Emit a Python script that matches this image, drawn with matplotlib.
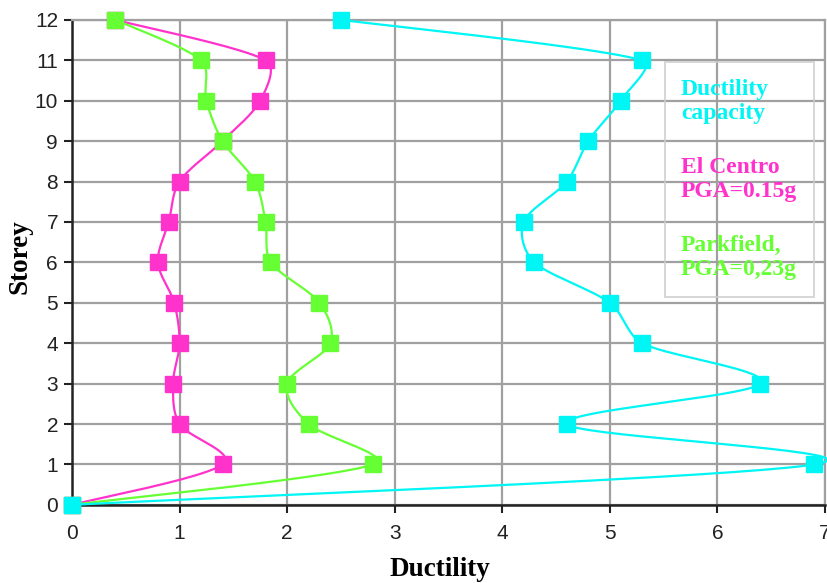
import numpy as np
import matplotlib
matplotlib.use("Agg")
import matplotlib.pyplot as plt
from matplotlib.lines import Line2D

storey = [0, 1, 2, 3, 4, 5, 6, 7, 8, 9, 10, 11, 12]
el_centro = [0, 1.4, 1.0, 0.94, 1.0, 0.95, 0.8, 0.9, 1.0, 1.4, 1.75, 1.8, 0.4]
parkfield = [0, 2.8, 2.2, 2.0, 2.4, 2.3, 1.85, 1.8, 1.7, 1.4, 1.25, 1.2, 0.4]
capacity = [0, 6.9, 4.6, 6.4, 5.3, 5.0, 4.3, 4.2, 4.6, 4.8, 5.1, 5.3, 2.5]

labels = ["Ductility\ncapacity", "El Centro\nPGA=0.15g", "Parkfield,\nPGA=0,23g"]
colors = ["#00F5F5", "#FF33CC", "#66FF33"]

XMAX, YMAX = 7, 12
SX, SY = 753 / XMAX, 485 / YMAX  # px per unit, spline is built in screen space


def smooth(xs, ys, n=40, k=1 / 3):
    # catmull-rom style bezier, handle length capped by the segment length
    p = np.column_stack([np.asarray(xs, float) * SX, np.asarray(ys, float) * SY])
    out = []
    for i in range(len(p) - 1):
        p0 = p[i - 1] if i > 0 else p[i]
        p1, p2 = p[i], p[i + 1]
        p3 = p[i + 2] if i + 2 < len(p) else p[i + 1]
        L = np.linalg.norm(p2 - p1)
        h1 = (p2 - p0) / 6
        h2 = (p3 - p1) / 6
        n1, n2 = np.linalg.norm(h1), np.linalg.norm(h2)
        if n1 > k * L:
            h1 = h1 / n1 * k * L
        if n2 > k * L:
            h2 = h2 / n2 * k * L
        c1, c2 = p1 + h1, p2 - h2
        t = np.linspace(0, 1, n)[:, None]
        seg = (1 - t) ** 3 * p1 + 3 * (1 - t) ** 2 * t * c1 + 3 * (1 - t) * t ** 2 * c2 + t ** 3 * p2
        out.append(seg if i == 0 else seg[1:])
    s = np.vstack(out)
    return s[:, 0] / SX, s[:, 1] / SY


fig = plt.figure(figsize=(8.27, 5.83), dpi=100)
ax = fig.add_axes([0.087, 0.134, 0.9105, 0.832])

for vals, col, z in [(el_centro, colors[1], 3), (parkfield, colors[2], 4), (capacity, colors[0], 5)]:
    sx, sy = smooth(vals, storey)
    ax.plot(sx, sy, color=col, lw=1.6, zorder=z, clip_on=False)
    ax.plot(vals, storey, ls="none", marker="s", ms=12, color=col, zorder=z + 0.5, clip_on=False)

ax.set_xlim(0, XMAX)
ax.set_ylim(0, YMAX)
ax.set_xticks(range(0, 8))
ax.set_yticks(range(0, 13))
ax.grid(True, color="#a0a0a0", lw=1.6)
ax.set_axisbelow(True)
for s in ["top", "right"]:
    ax.spines[s].set_color("#a0a0a0")
    ax.spines[s].set_linewidth(1.6)
for s in ["left", "bottom"]:
    ax.spines[s].set_color("#222222")
    ax.spines[s].set_linewidth(1.8)
ax.tick_params(direction="out", length=6, width=1.5, labelsize=15, colors="#222222")
ax.tick_params(axis="x", pad=8)
ax.tick_params(axis="y", pad=4)
for lab in ax.get_xticklabels() + ax.get_yticklabels():
    lab.set_fontfamily("Liberation Sans")

ax.set_xlabel("Ductility", fontfamily="Liberation Serif", fontweight="bold", fontsize=19.5)
ax.set_ylabel("Storey", fontfamily="Liberation Serif", fontweight="bold", fontsize=19.5)
ax.xaxis.set_label_coords(0.489, -0.107)
ax.yaxis.set_label_coords(-0.053, 0.511)

handles = [Line2D([], [], ls="none", marker=None) for _ in labels]
leg = ax.legend(handles, labels, loc="upper left", bbox_to_anchor=(0.787, 0.913),
                handlelength=0, handletextpad=0, labelspacing=1.4, borderpad=0.7,
                borderaxespad=0, fancybox=False, edgecolor="#cccccc",
                prop={"family": "Liberation Serif", "weight": "bold", "size": 17})
leg.get_frame().set_facecolor("none")
leg.get_frame().set_linewidth(1.4)
for t, c in zip(leg.get_texts(), colors):
    t.set_color(c)

fig.savefig("out.png", dpi=100)
